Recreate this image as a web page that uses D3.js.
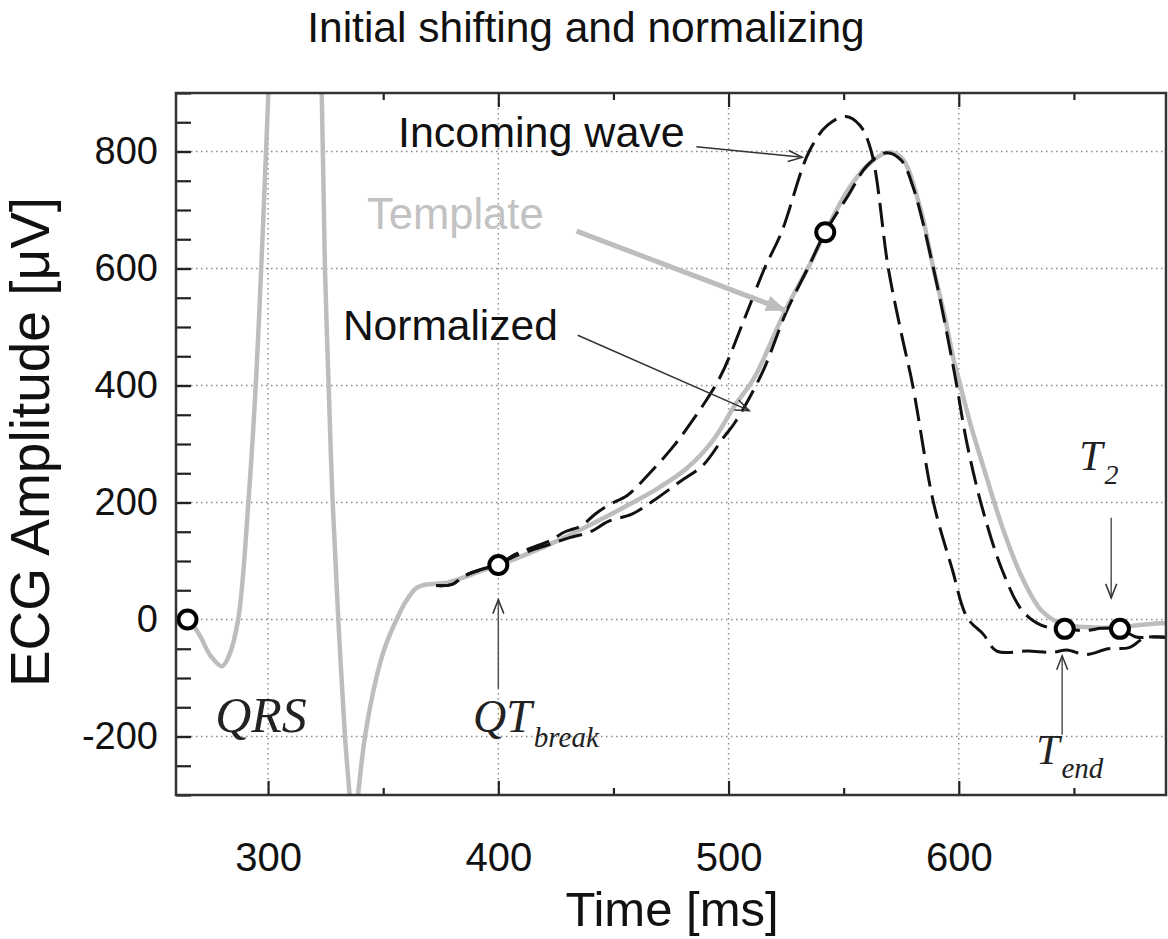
<!DOCTYPE html>
<html>
<head>
<meta charset="utf-8">
<script src="https://cdn.jsdelivr.net/npm/d3@7"></script>
<style>
  body { margin: 0; background: #fff; }
  svg { display: block; }
  text { font-family: "Liberation Sans", Arial, sans-serif; }
</style>
</head>
<body>
<script>
const width = 1168;
const height = 939;
const margin = { top: 93, right: 2, bottom: 144, left: 176 };

// template beat (grey), incl. the clipped R peak and S trough
const templateT = [260, 265, 270, 275, 280, 283, 287, 291.5, 294.8, 297, 299.1, 300.1, 302, 306, 312, 318, 321.5, 323.3, 324.7, 326.2, 328, 330.5, 333.4, 335.3, 337, 339.2, 342.1, 347, 351, 355.8, 360, 364.5, 369, 373, 378, 385, 393, 400, 410, 422, 440, 456.6, 470, 482, 493, 502.7, 511, 525, 535, 542, 552, 560, 568.5, 575, 583, 589, 593.5, 598, 600, 605, 610.6, 619, 627.6, 636, 645, 655, 665, 675, 682, 690];
const templateV = [2, 0, -25, -62, -80, -62, 0, 204, 412, 600, 800, 900, 1150, 1550, 1750, 1500, 1150, 900, 600, 412, 204, 0, -200, -295, -380, -295, -200, -100, -45, 0, 32, 54, 60, 61, 63, 72, 84, 93, 108, 128, 162, 196, 226, 259, 305, 366, 412, 531, 605, 662, 735, 775, 798, 790, 707, 600, 525, 440, 410, 335, 262, 157, 71, 15, -8, -13, -14, -11, -8, -6];

// incoming T wave (dashed)
const incomingT = [373, 380, 385, 393, 400, 407, 414, 422, 429, 436, 442, 448, 456, 465, 475.4, 482, 496, 507, 515.6, 523, 535, 543, 551, 557, 562, 569.4, 575, 580, 589, 597, 603.7, 610.6, 616.5, 630, 641, 647, 655, 665, 674, 681, 690];
const incomingV = [58, 60, 74, 86, 94, 111, 122, 134, 150, 160, 180, 196, 212, 247, 293, 327, 412, 515, 600, 662, 800, 845, 860, 845, 800, 600, 490, 400, 200, 88, 3, -25, -54, -54, -56, -52, -60, -50, -48, -31, -31];

// normalized T wave (dashed)
const normalizedT = [373, 380, 385, 393, 400, 407, 414, 422, 431, 440, 448, 458, 467, 479, 489, 497.6, 503, 515, 525, 535, 542, 552, 560, 568.5, 575, 580, 589, 598, 603.7, 610.6, 619, 627.6, 636, 646, 655, 662, 670, 677, 683, 690];
const normalizedV = [58, 60, 74, 86, 94, 108, 118, 128, 140, 150, 168, 180, 202, 236, 264, 310, 338, 425, 525, 605, 662, 725, 775, 798, 785, 741, 600, 424, 298, 185, 83, 15, -10, -16, -19, -15, -16, -30, -30, -30];

// fiducial points (open circles)
const markerT = [265, 400, 542, 646, 670];
const markerV = [0, 93, 662, -16, -16];

const xMajor = [300, 400, 500, 600];
const xMinor = [350, 450, 550, 650];
const yMajor = [-200, 0, 200, 400, 600, 800];
const yMinor = d3.range(-300, 901, 50);

const x = d3.scaleLinear().domain([260, 690]).range([margin.left, width - margin.right]);
const y = d3.scaleLinear().domain([-300, 900]).range([height - margin.bottom, margin.top]);

const svg = d3.select("body").append("svg")
  .attr("width", width)
  .attr("height", height);

const defs = svg.append("defs");
defs.append("clipPath").attr("id", "plot")
  .append("rect")
  .attr("x", margin.left).attr("y", margin.top)
  .attr("width", width - margin.left - margin.right)
  .attr("height", height - margin.top - margin.bottom);

defs.append("marker")
  .attr("id", "open-head")
  .attr("markerUnits", "userSpaceOnUse")
  .attr("viewBox", "-16 -8 18 16")
  .attr("markerWidth", 18).attr("markerHeight", 16)
  .attr("refX", 0).attr("refY", 0)
  .attr("orient", "auto")
  .append("path")
  .attr("d", "M-14,-5.5L0,0L-14,5.5")
  .attr("fill", "none").attr("stroke", "#333").attr("stroke-width", 1.5);

defs.append("marker")
  .attr("id", "grey-head")
  .attr("markerUnits", "userSpaceOnUse")
  .attr("viewBox", "-22 -9 24 18")
  .attr("markerWidth", 24).attr("markerHeight", 18)
  .attr("refX", 0).attr("refY", 0)
  .attr("orient", "auto")
  .append("path")
  .attr("d", "M-20,-8L0,0L-20,8Z")
  .attr("fill", "#bdbdbd");

// grid
const grid = svg.append("g").attr("stroke", "#8a8a8a").attr("stroke-width", 1.4).attr("stroke-dasharray", "1.5,3.5");
grid.selectAll(".gx").data(xMajor).join("line")
  .attr("x1", d => x(d)).attr("x2", d => x(d))
  .attr("y1", margin.top).attr("y2", height - margin.bottom);
grid.selectAll(".gy").data(yMajor).join("line")
  .attr("x1", margin.left).attr("x2", width - margin.right)
  .attr("y1", d => y(d)).attr("y2", d => y(d));

// axes with inward ticks
const axisStyle = (g, size) => {
  g.select(".domain").remove();
  g.selectAll(".tick line").attr("stroke", "#222").attr("stroke-width", 2.2);
  g.selectAll(".tick text").attr("fill", "#111")
    .style("font-family", '"Liberation Sans", Arial, sans-serif')
    .style("font-size", size + "px");
};

svg.append("g")
  .attr("transform", `translate(${margin.left},0)`)
  .call(d3.axisLeft(y).tickValues(yMinor).tickSize(-15).tickFormat(""))
  .call(axisStyle, 38);
svg.append("g")
  .attr("transform", `translate(${margin.left},0)`)
  .call(d3.axisLeft(y).tickValues(yMajor).tickSize(-15).tickPadding(18).tickFormat(d => String(d)))
  .call(axisStyle, 38);

svg.append("g")
  .attr("transform", `translate(0,${height - margin.bottom})`)
  .call(d3.axisBottom(x).tickValues(xMinor).tickSize(-7).tickFormat(""))
  .call(axisStyle, 40);
svg.append("g")
  .attr("transform", `translate(0,${height - margin.bottom})`)
  .call(d3.axisBottom(x).tickValues(xMajor).tickSize(-14).tickPadding(48).tickFormat(d => String(d)))
  .call(axisStyle, 40);
svg.append("g")
  .attr("transform", `translate(0,${margin.top})`)
  .call(d3.axisTop(x).tickValues(xMinor).tickSize(-7).tickFormat(""))
  .call(axisStyle, 40);
svg.append("g")
  .attr("transform", `translate(0,${margin.top})`)
  .call(d3.axisTop(x).tickValues(xMajor).tickSize(-14).tickFormat(""))
  .call(axisStyle, 40);

// curves
const line = d3.line()
  .x(d => x(d[0]))
  .y(d => y(d[1]))
  .curve(d3.curveCatmullRom.alpha(0.5));

const curves = svg.append("g").attr("clip-path", "url(#plot)");

curves.append("path")
  .datum(d3.zip(templateT, templateV))
  .attr("d", line)
  .attr("fill", "none")
  .attr("stroke", "#bdbdbd")
  .attr("stroke-width", 4.5);

curves.append("path")
  .datum(d3.zip(incomingT, incomingV))
  .attr("d", line)
  .attr("fill", "none")
  .attr("stroke", "#111")
  .attr("stroke-width", 3)
  .attr("stroke-dasharray", "24,9");

curves.append("path")
  .datum(d3.zip(normalizedT, normalizedV))
  .attr("d", line)
  .attr("fill", "none")
  .attr("stroke", "#111")
  .attr("stroke-width", 3)
  .attr("stroke-dasharray", "24,9");

svg.append("g")
  .selectAll("circle")
  .data(d3.zip(markerT, markerV))
  .join("circle")
  .attr("cx", d => x(d[0]))
  .attr("cy", d => y(d[1]))
  .attr("r", 9)
  .attr("fill", "#fff")
  .attr("stroke", "#000")
  .attr("stroke-width", 4);

// frame
svg.append("rect")
  .attr("x", margin.left).attr("y", margin.top)
  .attr("width", width - margin.left - margin.right)
  .attr("height", height - margin.top - margin.bottom)
  .attr("fill", "none")
  .attr("stroke", "#333")
  .attr("stroke-width", 2.5);

// annotation arrows (data coordinates)
const arrows = [
  { from: [486, 808], to: [532, 790], color: "#333", w: 1.5, head: "open-head" },
  { from: [434, 664], to: [525, 528], color: "#bdbdbd", w: 5, head: "grey-head" },
  { from: [434.5, 486], to: [509, 357], color: "#333", w: 1.5, head: "open-head" },
  { from: [400, -118], to: [400, 34], color: "#555", w: 1.5, head: "open-head" },
  { from: [666.2, 174], to: [666.2, 37], color: "#555", w: 1.5, head: "open-head" },
  { from: [644.9, -197], to: [644.9, -62], color: "#555", w: 1.5, head: "open-head" }
];
svg.append("g").selectAll("line")
  .data(arrows)
  .join("line")
  .attr("x1", d => x(d.from[0])).attr("y1", d => y(d.from[1]))
  .attr("x2", d => x(d.to[0])).attr("y2", d => y(d.to[1]))
  .attr("stroke", d => d.color)
  .attr("stroke-width", d => d.w)
  .attr("marker-end", d => `url(#${d.head})`);

// labels
const label = (t, v, txt, size, color) =>
  svg.append("text")
    .attr("x", x(t)).attr("y", y(v))
    .attr("fill", color)
    .style("font-size", size + "px")
    .text(txt);

label(356.4, 808, "Incoming wave", 43, "#111");
label(343, 667, "Template", 43.5, "#c2c2c2");
label(332.5, 477, "Normalized", 42.5, "#111");

const mathLabel = (t, v, main, size, sub, subSize) => {
  const txt = svg.append("text")
    .attr("x", x(t)).attr("y", y(v))
    .attr("fill", "#222")
    .style("font-family", '"Liberation Serif", "Times New Roman", serif')
    .style("font-style", "italic")
    .style("font-size", size + "px");
  txt.append("tspan").text(main);
  if (sub) {
    txt.append("tspan")
      .attr("dx", 2).attr("dy", size * 0.33)
      .style("font-size", subSize + "px")
      .text(sub);
  }
};

mathLabel(277, -192, "QRS", 50);
mathLabel(389, -192, "QT", 46, "break", 29);
mathLabel(652.3, 255, "T", 42, "2", 28);
mathLabel(633.6, -247, "T", 42, "end", 29);

// titles
svg.append("text")
  .attr("x", 586).attr("y", 42)
  .attr("text-anchor", "middle")
  .attr("fill", "#111")
  .style("font-size", "42.5px")
  .text("Initial shifting and normalizing");

svg.append("text")
  .attr("x", (margin.left + width - margin.right) / 2 + 1)
  .attr("y", 926)
  .attr("text-anchor", "middle")
  .attr("fill", "#111")
  .style("font-size", "49px")
  .text("Time [ms]");

svg.append("text")
  .attr("transform", `translate(49,${(margin.top + height - margin.bottom) / 2 - 2}) rotate(-90)`)
  .attr("text-anchor", "middle")
  .attr("fill", "#111")
  .style("font-size", "55px")
  .text("ECG Amplitude [\u03bcV]");
</script>
</body>
</html>
